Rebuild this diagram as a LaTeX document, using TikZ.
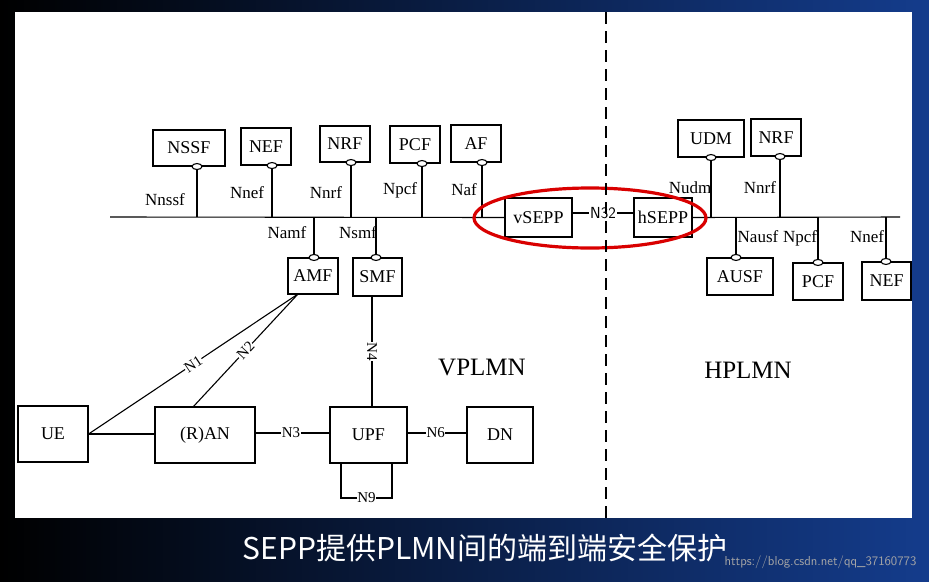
\documentclass[tikz,border=0pt]{standalone}
\usetikzlibrary{shapes.geometric}
\usepackage{fontspec}
\setmainfont{Liberation Serif}
\newfontfamily\cjk{Noto Sans CJK SC}
\begin{document}
\begin{tikzpicture}[x=1pt,y=-1pt,
  bx/.style={draw,line width=1.1pt,inner sep=0pt},
  lb/.style={font=\fontsize{17}{17}\selectfont,inner sep=1pt},
  ln/.style={line width=1.1pt},
  lbl/.style={fill=white,inner sep=0.5pt,font=\fontsize{15}{15}\selectfont},
  port/.style={draw,line width=1.1pt,fill=white,ellipse,minimum width=10pt,minimum height=6pt,inner sep=0pt}]
\useasboundingbox (0,0) rectangle (929,581);
\shade[left color=black,right color={rgb,255:red,20;green,60;blue,140}] (0,0) rectangle (929,581);
\fill[white] (15,12) rectangle (912,518);
\newcommand\bxx[6]{\node[bx,minimum width=#3-#2,minimum height=#5-#4,font=\fontsize{18}{18}\selectfont] (#1) at ({(#2+#3)/2},{(#4+#5)/2}) {#6};}
\bxx{nssf}{153}{225}{130}{166}{NSSF}
\bxx{nef}{241}{291}{128}{165}{NEF}
\bxx{nrf}{320}{370}{126}{162}{NRF}
\bxx{pcf}{390}{440}{126}{163}{PCF}
\bxx{af}{451}{501}{125}{162}{AF}
\bxx{amf}{288}{338}{258}{294}{AMF}
\bxx{smf}{353}{402}{258}{296}{SMF}
\bxx{vsepp}{505}{572}{198}{237}{vSEPP}
\bxx{hsepp}{634}{692}{198}{237}{hSEPP}
\bxx{udm}{678}{744}{120}{157}{UDM}
\bxx{nrf2}{751}{801}{119}{156}{NRF}
\bxx{ausf}{707}{773}{258}{295}{AUSF}
\bxx{pcf2}{793}{843}{263}{300}{PCF}
\bxx{nef2}{862}{911}{262}{300}{NEF}
\bxx{ue}{18}{88}{406}{462}{UE}
\bxx{ran}{155}{255}{407}{463}{(R)AN}
\bxx{upf}{330}{407}{407}{463}{UPF}
\bxx{dn}{467}{533}{407}{463}{DN}
\coordinate (bl) at (110,217);
\coordinate (br) at (900,217);
\draw[ln] (bl) -- (vsepp.west);
\draw[ln] (hsepp.east) -- (br);
\foreach \n/\x in {nssf/197,nef/272,nrf/351,pcf/422,af/482,udm/711,nrf2/780}{
  \draw[ln] (\x,217) -- (\x,0 |- \n.south);
  \node[port] at (\x,0 |- \n.south) {};
}
\foreach \n/\x in {amf/314,smf/376,ausf/736,pcf2/818,nef2/886}{
  \draw[ln] (\x,217) -- (\x,0 |- \n.north);
  \node[port] at (\x,0 |- \n.north) {};
}
\node[lb] at (165,200) {Nnssf};
\node[lb] at (247,193) {Nnef};
\node[lb] at (326,193) {Nnrf};
\node[lb] at (400,190) {Npcf};
\node[lb] at (464,190) {Naf};
\node[lb] at (287,233) {Namf};
\node[lb] at (358,233) {Nsmf};
\node[lb] at (690,188) {Nudm};
\node[lb] at (760,188) {Nnrf};
\node[lb] at (758,237) {Nausf};
\node[lb] at (800,238) {Npcf};
\node[lb] at (867,237) {Nnef};
\node[font=\sffamily\fontsize{16}{16}\selectfont,inner sep=1pt] (n32) at (603,213) {N32};
\draw[ln] (vsepp.east|-n32) -- (n32.west);
\draw[ln] (n32.east) -- (hsepp.west|-n32);
\draw[red!85!black,line width=3.2pt] (590,218) ellipse [x radius=116,y radius=30];
\draw[line width=1.1pt,dash pattern=on 12pt off 7pt] (606,12) -- (606,518);
\node[font=\fontsize{25}{25}\selectfont] at (482,367) {VPLMN};
\node[font=\fontsize{25}{25}\selectfont] at (748,370) {HPLMN};
\coordinate (amfp) at (298,294);
\draw[ln] (ue.east) -- node[sloped,lbl,pos=0.5]{N1} (amfp);
\draw[ln] (193,407) -- node[sloped,lbl,pos=0.5]{N2} (amfp);
\draw[ln] (ue.east) -- (ran.west|-ue.east);
\draw[ln] (ran.east|-0,433) -- node[lbl,pos=0.48]{N3} (upf.west|-0,433);
\draw[ln] (upf.east|-0,433) -- node[lbl,pos=0.48]{N6} (dn.west|-0,433);
\draw[ln] (372,296) -- node[rotate=-90,lbl,pos=0.5]{N4} (372,407);
\draw[ln] (341,463) -- (341,498) -- node[lbl]{N9} (392,498) -- (392,463);
\node[white,font=\cjk\fontsize{30}{30}\selectfont] at (485,548) {SEPP提供PLMN间的端到端安全保护};
\node[gray!70,font=\sffamily\fontsize{13}{13}\selectfont,anchor=east] at (920,562) {https://blog.csdn.net/qq\_37160773};
\end{tikzpicture}
\end{document}
